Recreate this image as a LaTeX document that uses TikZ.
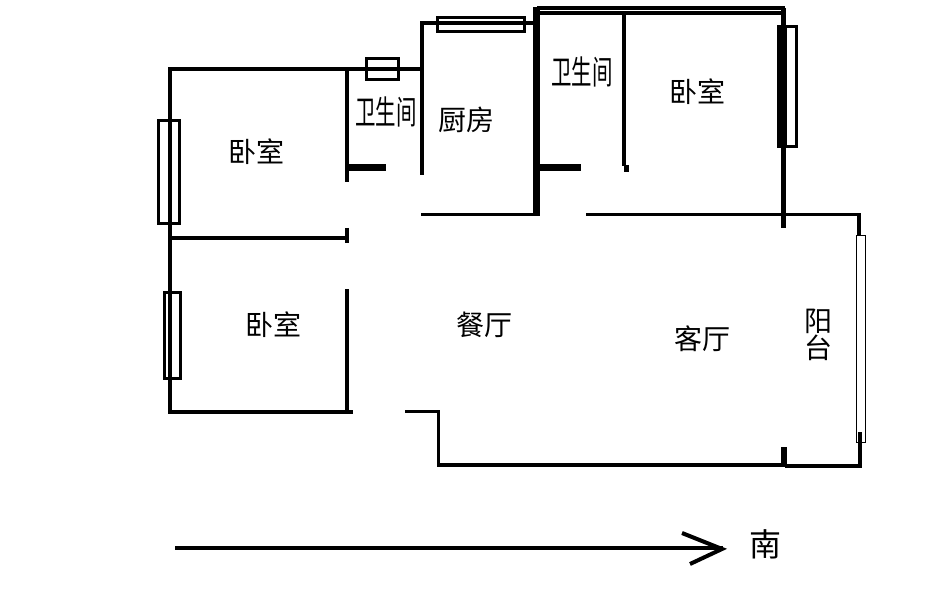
\documentclass[tikz,border=0pt]{standalone}
\usepackage{fontspec}
\newfontfamily\cjk{Noto Sans CJK SC}
\tikzset{
	wall/.style={line width=3.5pt},
	fatwall/.style={line width=7pt},
	window/.style={draw,line width=3pt},
	room/.style={font=\cjk\fontsize{28}{27}\selectfont,inner sep=0pt},
	narrowroom/.style={font=\cjk\fontsize{33}{33}\selectfont,inner sep=0pt,xscale=0.62,transform shape}
}
\begin{document}
\begin{tikzpicture}[x=1pt,y=-1pt]
	\useasboundingbox (0,0) rectangle (929,596);
	\draw[wall] (347,182)--(347,69)--(170,69)--(170,412)--(353,412);
	\draw[wall] (347,69)--(422,69);
	\draw[wall] (422,175)--(422,23)--(537,23);
	\draw[wall] (170,238)--(347,238);
	\draw[wall] (347,228)--(347,243);
	\draw[wall] (347,289)--(347,412);
	\draw[wall] (421,214.5)--(540,214.5);
	\draw[wall] (586,214.5)--(859,214.5)--(859,235);
	\draw[wall] (405,411.5)--(438.5,411.5)--(438.5,465)--(785,465);
	\draw[wall] (785,466)--(860,466)--(860,432);
	\draw[wall] (624,13)--(624,166);
	\draw[wall,line width=5pt] (626,165)--(626,172);
	\draw[wall] (537,8)--(785,8);
	\draw[wall] (537,13)--(785,13);
	\draw[fatwall] (536,7)--(536,214);
	\draw[fatwall] (347,168)--(386,168);
	\draw[fatwall] (536,168)--(581,168);
	\draw[wall,line width=5pt] (783,8)--(783,228);
	\draw[wall,line width=6pt] (784,447)--(784,466);
	\fill (777,25) rectangle (787,148);
	\draw[window] (778,26.5) rectangle (796,146.5);
	\draw[window] (158.5,120.5) rectangle (179,223.5);
	\draw[window] (164.5,292) rectangle (180,378.5);
	\draw[window] (366.5,58.5) rectangle (398,79.5);
	\draw[window] (437,17.5) rectangle (524,32);
	\draw[thin] (856,235) rectangle (865.5,442);
	\draw[wall] (175,548)--(723,548);
	\draw[line width=4pt] (682,533)--(722,549)--(690,564);
	\node[room] (bedroomA) at (256,152) {卧室};
	\node[room] (bedroomB) at (273,325) {卧室};
	\node[room] (bedroomC) at (697,92) {卧室};
	\node[room] (kitchen) at (466,120) {厨房};
	\node[room] (dining) at (484,325) {餐厅};
	\node[room] (living) at (702,339) {客厅};
	\node[room,align=center] (balcony) at (818,335) {阳\\台};
	\node[room,font=\cjk\fontsize{32}{32}\selectfont] (south) at (765,544) {南};
	\node[narrowroom] (bathA) at (386,112) {卫生间};
	\node[narrowroom] (bathB) at (582,72) {卫生间};
\end{tikzpicture}
\end{document}
